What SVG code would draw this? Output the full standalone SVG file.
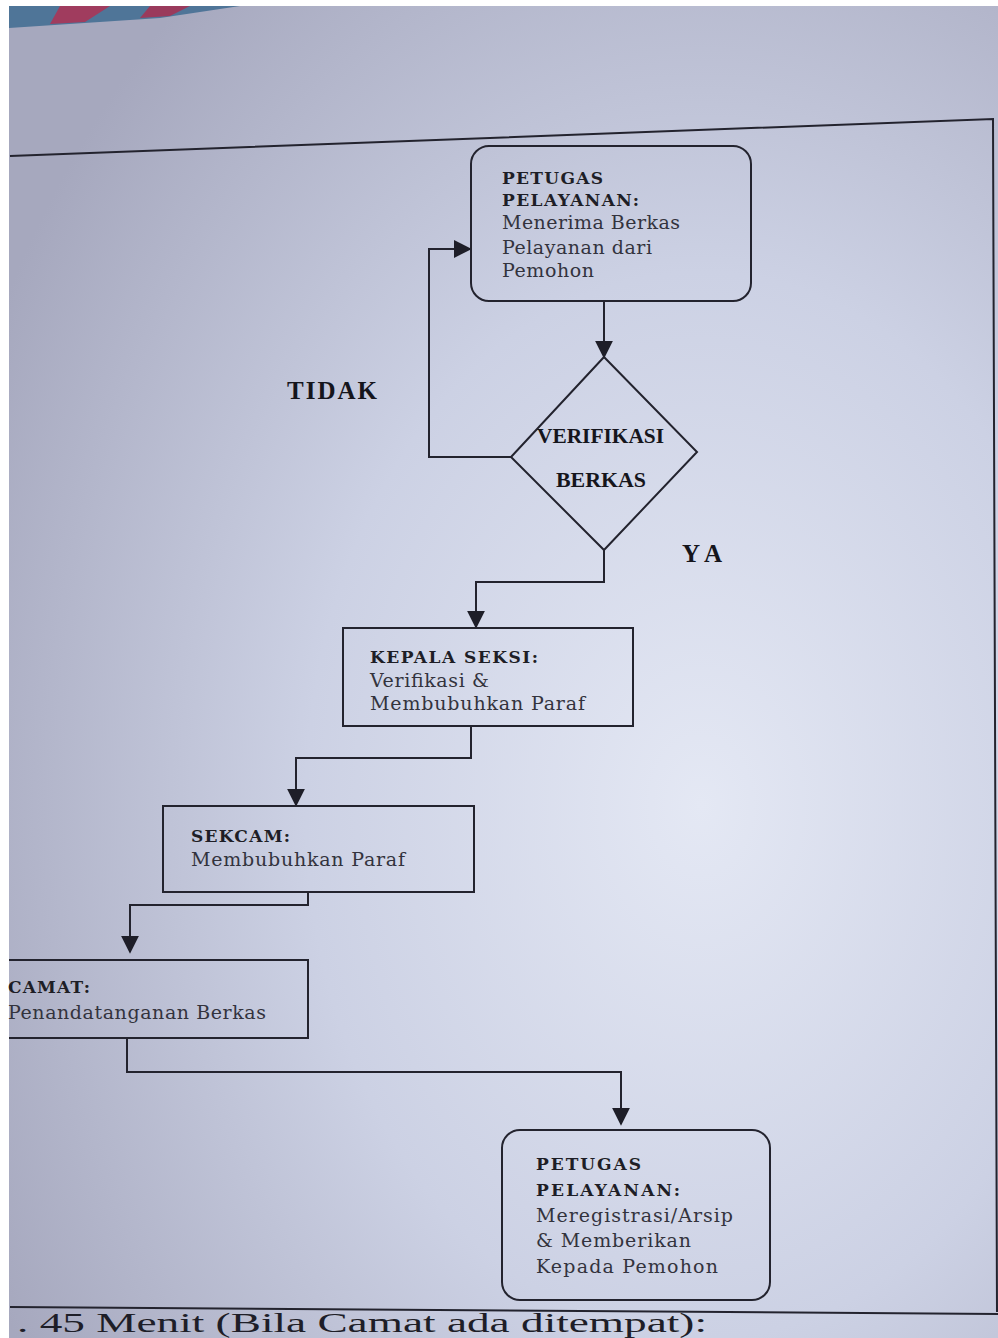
<svg xmlns="http://www.w3.org/2000/svg" width="998" height="1338" viewBox="0 0 998 1338">
<defs>
<radialGradient id="paper" cx="0.7" cy="0.6" r="0.8">
<stop offset="0" stop-color="#e4e8f4"/>
<stop offset="0.5" stop-color="#ccd1e4"/>
<stop offset="1" stop-color="#a6a8be"/>
</radialGradient>
<marker id="arrL" viewBox="0 0 10 10" refX="9" refY="5" markerWidth="18" markerHeight="18" markerUnits="userSpaceOnUse" orient="auto">
<path d="M0,0 L10,5 L0,10 z" fill="#1e1e28"/>
</marker>
</defs>
<style>
.box{fill:none;stroke:#23232e;stroke-width:2}
.ln{fill:none;stroke:#23232e;stroke-width:2;marker-end:url(#arrL)}
.plain{fill:none;stroke:#23232e;stroke-width:2}
.h{font-family:"DejaVu Serif","Liberation Serif",serif;font-weight:bold;font-size:17px;fill:#1e1e26}
.t{font-family:"DejaVu Serif","Liberation Serif",serif;font-size:19px;fill:#33333d}
.d{font-family:"Liberation Serif",serif;font-weight:bold;font-size:22px;fill:#15151c}
.lb{font-family:"Liberation Serif",serif;font-weight:bold;font-size:25px;fill:#15151c}
.big{font-family:"Liberation Serif",serif;font-size:28px;fill:#1e1e28}
</style>
<rect x="0" y="0" width="998" height="1338" fill="#ffffff"/>
<rect x="9" y="6" width="989" height="1332" fill="url(#paper)"/>
<path d="M9,6 L240,6 L160,18 L9,28 z" fill="#4f7598"/>
<path d="M60,6 L110,6 L85,22 L50,24 z" fill="#a03c5e"/>
<path d="M150,6 L190,6 L170,16 L140,18 z" fill="#9a3a5c"/>
<g id="page">
<path d="M10,156 L993,119 L997,1312" class="plain"/>
<path d="M10,1307 L998,1314" class="plain"/>
<text x="17" y="1332" class="big" textLength="690" lengthAdjust="spacingAndGlyphs">. 45 Menit (Bila Camat ada ditempat):</text>
</g>
<g id="connectors">
<path d="M604,302 L604,357" class="ln"/>
<path d="M511,457 L429,457 L429,249 L470,249" class="ln"/>
<path d="M604,550 L604,582 L476,582 L476,627" class="ln"/>
<path d="M471,726 L471,758 L296,758 L296,805" class="ln"/>
<path d="M308,892 L308,905 L130,905 L130,952" class="ln"/>
<path d="M127,1038 L127,1072 L621,1072 L621,1124" class="ln"/>
</g>
<g id="n1">
<rect x="471" y="146" width="280" height="155" rx="18" class="box"/>
<text x="502" y="184" class="h" textLength="101">PETUGAS</text>
<text x="502" y="206" class="h" textLength="137">PELAYANAN:</text>
<text x="502" y="229" class="t" textLength="178">Menerima Berkas</text>
<text x="502" y="254" class="t" textLength="150">Pelayanan dari</text>
<text x="502" y="277" class="t" textLength="92">Pemohon</text>
</g>
<g id="n2">
<path d="M604,357 L697,452 L604,550 L511,457 z" class="box"/>
<text x="537" y="443" class="d" textLength="127" lengthAdjust="spacingAndGlyphs">VERIFIKASI</text>
<text x="556" y="487" class="d" textLength="90" lengthAdjust="spacingAndGlyphs">BERKAS</text>
</g>
<g id="labels">
<text x="287" y="399" class="lb" textLength="90">TIDAK</text>
<text x="682" y="562" class="lb" textLength="40">YA</text>
</g>
<g id="n3">
<rect x="343" y="628" width="290" height="98" class="box"/>
<text x="370" y="663" class="h" textLength="168">KEPALA SEKSI:</text>
<text x="370" y="687" class="t" textLength="119">Verifikasi &amp;</text>
<text x="370" y="710" class="t" textLength="215">Membubuhkan Paraf</text>
</g>
<g id="n4">
<rect x="163" y="806" width="311" height="86" class="box"/>
<text x="191" y="842" class="h" textLength="99">SEKCAM:</text>
<text x="191" y="866" class="t" textLength="214">Membubuhkan Paraf</text>
</g>
<g id="n5">
<path d="M9,960 L308,960 L308,1038 L9,1038" class="box"/>
<text x="8" y="993" class="h" textLength="82">CAMAT:</text>
<text x="8" y="1019" class="t" textLength="258">Penandatanganan Berkas</text>
</g>
<g id="n6">
<rect x="502" y="1130" width="268" height="170" rx="18" class="box"/>
<text x="536" y="1170" class="h" textLength="105">PETUGAS</text>
<text x="536" y="1196" class="h" textLength="144">PELAYANAN:</text>
<text x="536" y="1222" class="t" textLength="197">Meregistrasi/Arsip</text>
<text x="536" y="1247" class="t" textLength="155">&amp; Memberikan</text>
<text x="536" y="1273" class="t" textLength="182">Kepada Pemohon</text>
</g>
</svg>
